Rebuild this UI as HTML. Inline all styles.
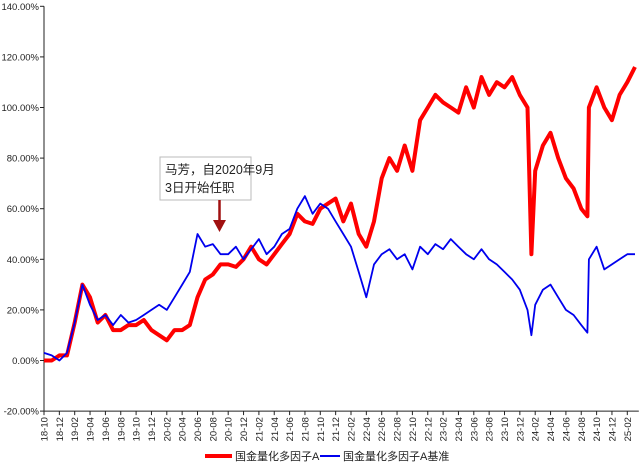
<!DOCTYPE html>
<html><head><meta charset="utf-8"><style>
body{margin:0;background:#fff;width:640px;height:468px;overflow:hidden}
svg{display:block;font-family:"Liberation Sans","Noto Sans CJK SC",sans-serif}
</style></head><body>
<svg id="chart" width="640" height="468" viewBox="0 0 640 468">
<g id="axes"></g>
<g id="series"></g>
<g>
<rect x="160" y="157" width="91" height="43" fill="#fff" stroke="#bbb"/>
<text x="165" y="174" font-size="12.5" fill="#222">马芳，自2020年9月</text>
<text x="165" y="192" font-size="12.5" fill="#222">3日开始任职</text>
<line x1="219.5" y1="200" x2="219.5" y2="222" stroke="#a01010" stroke-width="2.5"/>
<polygon points="213,220 226,220 219.5,232" fill="#a01010"/>
</g>
<g>
<line x1="205" y1="456" x2="232" y2="456" stroke="#ff0000" stroke-width="4"/>
<text x="235" y="460" font-size="11" fill="#222">国金量化多因子A</text>
<line x1="320" y1="456" x2="340" y2="456" stroke="#0000ee" stroke-width="2"/>
<text x="343" y="460" font-size="11" fill="#222">国金量化多因子A基准</text>
</g>
</svg>
<script>
const yTicks=[-20,0,20,40,60,80,100,120,140];
const xLabels=["18-10","18-12","19-02","19-04","19-06","19-08","19-10","19-12","20-02","20-04","20-06","20-08","20-10","20-12","21-02","21-04","21-06","21-08","21-10","21-12","22-02","22-04","22-06","22-08","22-10","22-12","23-02","23-04","23-06","23-08","23-10","23-12","24-02","24-04","24-06","24-08","24-10","24-12","25-02"];
const months=[0,1,2,3,4,5,6,7,8,9,10,11,12,13,14,15,16,17,18,19,20,21,22,23,24,25,26,27,28,29,30,31,32,33,34,35,36,37,38,39,40,41,42,43,44,45,46,47,48,49,50,51,52,53,54,55,56,57,58,59,60,61,62,63,63.5,64,65,66,67,68,69,70,70.8,71,72,73,74,75,76,77];
const fundValues=[0,0,2,2,15,30,25,15,18,12,12,14,14,16,12,10,8,12,12,14,25,32,34,38,38,37,40,45,40,38,42,46,50,58,55,54,60,62,64,55,62,50,45,55,72,80,75,85,75,95,100,105,102,100,98,108,100,112,105,110,108,112,105,100,42,75,85,90,80,72,68,60,57,100,108,100,95,105,110,116];
const benchValues=[3,2,0,3,15,30,22,16,18,14,18,15,16,18,20,22,20,25,30,35,50,45,46,42,42,45,40,44,48,42,45,50,52,60,65,58,62,60,55,50,45,35,25,38,42,44,40,42,36,45,42,46,44,48,45,42,40,44,40,38,35,32,28,20,10,22,28,30,25,20,18,14,11,40,45,36,38,40,42,42];
const NS="http://www.w3.org/2000/svg";
const x0=44,mw=7.675,y0=360.5,ps=2.53;
const X=m=>x0+m*mw, Y=v=>y0-v*ps;
const axes=document.getElementById('axes'),ser=document.getElementById('series');
function mk(t,a,p){const e=document.createElementNS(NS,t);for(const k in a)e.setAttribute(k,a[k]);p.appendChild(e);return e;}
let yl=mk('line',{x1:x0,y1:Y(140),x2:x0,y2:Y(-20),stroke:'#222','stroke-width':1},axes);


let xl=mk('line',{x1:x0,y1:Y(-20),x2:X(77.5),y2:Y(-20),stroke:'#222','stroke-width':1},axes);


yTicks.forEach(v=>{
 const t=mk('line',{x1:x0-4,y1:Y(v),x2:x0,y2:Y(v),stroke:'#222'},axes);
 
 
 const l=mk('text',{x:x0-5,y:Y(v)+3.5,'font-size':9.5,'text-anchor':'end',fill:'#222'},axes);
 l.textContent=v.toFixed(2)+'%';
 
 
});
xLabels.forEach((s,i)=>{
 const x=X(i*2);
 const t=mk('line',{x1:x,y1:Y(-20),x2:x,y2:Y(-20)+4,stroke:'#222'},axes);
 
 
 const l=mk('text',{x:0,y:0,'font-size':9.5,'text-anchor':'end',fill:'#222',transform:`translate(${x+3.5},${Y(-20)+6}) rotate(-90)`},axes);
 l.textContent=s;
 
 
});
function path(vals,col,w,name){
 const d=vals.map((v,i)=>(i?'L':'M')+X(months[i]).toFixed(1)+','+Y(v).toFixed(1)).join('');
 const p=mk('path',{d:d,fill:'none',stroke:col,'stroke-width':w,'stroke-linejoin':'round'},ser);
 
 
}
path(fundValues,'#ff0000',4,'fund-line');
path(benchValues,'#0000ee',1.8,'benchmark-line');
</script>
</body></html>
